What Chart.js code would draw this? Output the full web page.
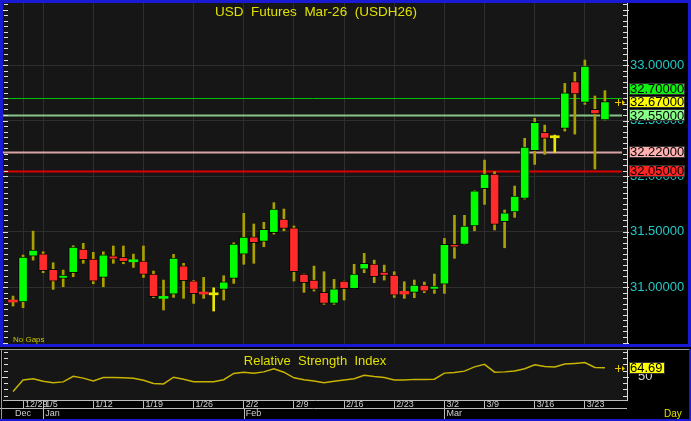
<!DOCTYPE html>
<html>
<head>
<meta charset="utf-8">
<script src="https://cdn.jsdelivr.net/npm/chart.js@4"></script>
<style>
  body { margin: 0; background: #000; }
  #wrap { position: relative; width: 691px; height: 421px; }
  #main { position: absolute; left: 0; top: 0; }
  #rsi { position: absolute; left: 0; top: 347px; }
</style>
</head>
<body>
<div id="wrap">
  <canvas id="main" width="691" height="347"></canvas>
  <canvas id="rsi" width="691" height="74"></canvas>
</div>
<script>
// daily OHLC, USDH26
const opens = [30.883, 30.865, 31.279, 31.300, 31.160, 31.078, 31.129, 31.342, 31.252, 31.087,
  31.282, 31.267, 31.228, 31.234, 31.117, 30.898, 30.937, 31.192, 31.057, 30.952,
  30.930, 30.979, 31.078, 31.297, 31.453, 31.412, 31.489, 31.612, 31.534, 31.117,
  31.063, 30.952, 30.853, 31.054, 30.985, 31.162, 31.207, 31.135, 31.108, 30.961,
  30.952, 31.018, 30.979, 31.027, 31.385, 31.385, 31.550, 31.886, 32.018, 31.588,
  31.678, 31.799, 32.228, 32.394, 32.345, 32.430, 32.850, 32.664, 32.601, 32.505];
const highs = [30.919, 31.288, 31.504, 31.318, 31.219, 31.153, 31.372, 31.394, 31.313, 31.318,
  31.370, 31.370, 31.297, 31.370, 31.144, 31.063, 31.295, 31.214, 31.060, 31.087,
  30.993, 31.102, 31.399, 31.664, 31.568, 31.583, 31.760, 31.703, 31.550, 31.117,
  31.189, 31.138, 31.069, 31.054, 31.205, 31.304, 31.243, 31.198, 31.138, 31.048,
  31.063, 31.045, 31.117, 31.438, 31.646, 31.646, 31.868, 32.144, 32.039, 31.694,
  31.910, 32.340, 32.520, 32.459, 32.369, 32.835, 32.934, 33.045, 32.721, 32.769];
const lows = [30.829, 30.814, 31.243, 31.129, 30.979, 31.003, 31.093, 31.214, 31.030, 31.003,
  31.214, 31.210, 31.177, 31.087, 30.904, 30.793, 30.907, 30.898, 30.853, 30.898,
  30.784, 30.883, 31.033, 31.205, 31.214, 31.363, 31.477, 31.507, 31.054, 30.952,
  30.964, 30.844, 30.844, 30.883, 30.985, 31.129, 31.039, 31.063, 30.907, 30.898,
  30.904, 30.949, 30.943, 30.943, 31.259, 31.385, 31.507, 31.745, 31.514, 31.354,
  31.628, 31.793, 32.105, 32.195, 32.214, 32.405, 32.378, 32.646, 32.063, 32.505];
const closes = [30.865, 31.270, 31.333, 31.147, 31.054, 31.108, 31.360, 31.246, 31.054, 31.291,
  31.252, 31.228, 31.243, 31.114, 30.913, 30.913, 31.261, 31.057, 30.940, 30.937,
  30.930, 31.048, 31.387, 31.450, 31.399, 31.520, 31.703, 31.529, 31.138, 31.039,
  30.979, 30.853, 30.985, 30.985, 31.117, 31.214, 31.093, 31.105, 30.928, 30.937,
  31.018, 30.964, 31.009, 31.385, 31.360, 31.550, 31.868, 32.018, 31.565, 31.669,
  31.820, 32.261, 32.484, 32.340, 32.345, 32.750, 32.739, 32.991, 32.559, 32.670];
const rsiValues = [26.5, 45, 47, 43, 40.5, 42, 51, 48, 43.5, 49,
  49, 48.5, 47.8, 44.5, 39.3, 38.8, 49.5, 46.2, 42.2, 42.2,
  42.2, 45.5, 55.5, 57.3, 55.7, 58, 63, 57.5, 48.5, 45.5,
  43.5, 40.5, 43, 45, 47, 52.5, 50.5, 49, 45, 45,
  46, 46, 46.2, 56, 57, 59.2, 66, 70, 57.5, 58,
  59.5, 63, 69.5, 66.5, 65.8, 70.5, 71.5, 72.8, 65, 64.69];

// week ticks (bar index) and month starts
const tickIdx = [1, 3, 8, 13, 18, 23, 28, 33, 38, 43, 47, 52, 57];
const tickLabels = ['12/29', '1/5', '1/12', '1/19', '1/26', '2/2', '2/9', '2/16', '2/23', '3/2', '3/9', '3/16', '3/23'];
const monthIdx = [0, 3, 23, 43];
const monthLabels = ['Dec', 'Jan', 'Feb', 'Mar'];
const priceTicks = [31.0, 31.5, 32.0, 32.5, 33.0];
const levels = [32.70, 32.67, 32.55, 32.22, 32.05];
const rsiTicks = [50];

const FONT = "'Liberation Sans', Arial, sans-serif";
Chart.defaults.font.family = FONT;

const levelLine = ['#00c000', null, '#88c488', '#d8a4a4', '#dd0000'];
const levelBox = ['#11ee11', '#ffff00', '#88ff88', '#ffb0b0', '#ff2424'];

function candleColor(i) {
  if (closes[i] > opens[i]) return '#00ff00';
  if (closes[i] < opens[i]) return '#ff2a2a';
  return '#e8e800';
}

function xScaleOpts() {
  return {
    type: 'linear', min: -1, max: 61.2, offset: false,
    afterBuildTicks: s => { s.ticks = tickIdx.map(v => ({ value: v })); },
  };
}

function ruler(ctx, scale, from, to, step, major, x0, x1) {
  ctx.strokeStyle = '#e0e0e0';
  ctx.lineWidth = 1;
  ctx.beginPath();
  for (let v = from; v <= to + 1e-9; v += step) {
    const py = Math.round(scale.getPixelForValue(v)) + 0.5;
    const big = Math.abs(v / major - Math.round(v / major)) < 1e-6;
    ctx.moveTo(x0, py);
    ctx.lineTo(x1 + (x1 > x0 ? (big ? 2 : 0) : (big ? -2 : 0)), py);
  }
  ctx.stroke();
}

function marker(ctx, x, y) {
  ctx.strokeStyle = '#e8c800';
  ctx.fillStyle = '#e8c800';
  ctx.lineWidth = 1;
  ctx.beginPath();
  ctx.moveTo(x - 3, y + 0.5); ctx.lineTo(x + 3, y + 0.5);
  ctx.moveTo(x + 0.5, y - 3); ctx.lineTo(x + 0.5, y + 4);
  ctx.stroke();
  ctx.beginPath();
  ctx.moveTo(x + 4, y - 2); ctx.lineTo(x + 7, y + 0.5); ctx.lineTo(x + 4, y + 3);
  ctx.fill();
}

function valueBox(ctx, x, cy, w, h, bg, text) {
  ctx.fillStyle = bg;
  ctx.fillRect(x, Math.round(cy - h / 2), w, h);
  ctx.strokeStyle = '#333';
  ctx.lineWidth = 1;
  ctx.strokeRect(x + 0.5, Math.round(cy - h / 2) + 0.5, w - 1, h - 1);
  ctx.fillStyle = '#000';
  ctx.font = '13px ' + FONT;
  ctx.textAlign = 'left';
  ctx.textBaseline = 'middle';
  ctx.fillText(text, x + 1, cy + 1);
}

const mainDecor = {
  id: 'mainDecor',
  beforeDraw(chart) {
    const { ctx, chartArea: a } = chart;
    ctx.save();
    ctx.fillStyle = '#000';
    ctx.fillRect(0, 0, chart.width, chart.height);
    ctx.fillStyle = '#161616';
    ctx.fillRect(a.left, a.top, a.right - a.left, a.bottom - a.top);
    ctx.restore();
  },
  beforeDatasetsDraw(chart) {
    const { ctx, chartArea: a, scales: { y } } = chart;
    ctx.save();
    levels.forEach((v, i) => {
      if (!levelLine[i]) return;
      const py = Math.round(y.getPixelForValue(v)) + 0.5;
      ctx.strokeStyle = levelLine[i];
      ctx.lineWidth = i === 0 ? 1 : 2;
      ctx.beginPath();
      ctx.moveTo(a.left, py);
      ctx.lineTo(a.right - 5, py);
      ctx.stroke();
    });
    ctx.restore();
  },
  afterDraw(chart) {
    const { ctx, chartArea: a, scales: { y } } = chart;
    ctx.save();
    ruler(ctx, y, 30.5, 33.55, 0.05, 0.5, a.right - 4, a.right);
    ruler(ctx, y, 30.5, 33.55, 0.05, 0.5, a.left + 5, a.left + 1);

    // price boxes, pushed up when they collide
    const items = levels.map((v, i) => ({ v, i, c: y.getPixelForValue(v) })).sort((p, q) => q.c - p.c);
    let limit = Infinity;
    items.forEach(it => {
      let c = it.c;
      if (c + 6 > limit - 1) c = limit - 1 - 6;
      it.cy = c;
      limit = c - 6;
    });
    items.forEach(it => valueBox(ctx, a.right + 2, it.cy, 56, 12, levelBox[it.i], it.v.toFixed(5)));

    marker(ctx, a.right - 9, Math.round(y.getPixelForValue(closes[closes.length - 1])));

    ctx.fillStyle = '#e0e000';
    ctx.font = '13.5px ' + FONT;
    ctx.textAlign = 'center';
    ctx.textBaseline = 'middle';
    ctx.fillText('USD  Futures  Mar-26  (USDH26)', 316, 12);

    ctx.font = '8px ' + FONT;
    ctx.textAlign = 'left';
    ctx.fillStyle = '#c8c800';
    ctx.fillText('No Gaps', 13, 340);

    ctx.strokeStyle = '#1a1ad2';
    ctx.lineWidth = 3;
    ctx.strokeRect(1.5, 1.5, chart.width - 3, chart.height - 3);
    ctx.restore();
  }
};

new Chart(document.getElementById('main'), {
  type: 'bar',
  data: {
    datasets: [
      {
        label: 'wick',
        order: 2,
        data: highs.map((h, i) => ({ x: i, y: [lows[i], h] })),
        backgroundColor: ctx => closes[ctx.dataIndex] === opens[ctx.dataIndex] ? '#e8e800' : '#aaa000',
        barThickness: 2,
        grouped: false,
      },
      {
        label: 'body',
        order: 1,
        data: opens.map((o, i) => ({ x: i, y: [o, closes[i]] })),
        backgroundColor: ctx => candleColor(ctx.dataIndex),
        borderColor: 'rgba(0,0,0,0.85)',
        borderWidth: ctx => Math.abs(closes[ctx.dataIndex] - opens[ctx.dataIndex]) < 0.025 ? 0 : 1,
        borderSkipped: false,
        minBarLength: 2,
        barThickness: 9,
        grouped: false,
      }
    ]
  },
  options: {
    responsive: false,
    animation: false,
    devicePixelRatio: 1,
    layout: { padding: { left: 3, top: 3, right: 0, bottom: 3 } },
    plugins: { legend: { display: false }, tooltip: { enabled: false } },
    scales: {
      x: Object.assign(xScaleOpts(), {
        afterFit: s => { s.height = 0; s.paddingLeft = 0; s.paddingRight = 0; },
        grid: { color: '#2e2e2e', drawTicks: false, offset: false },
        border: { display: false },
        ticks: { display: false, autoSkip: false },
      }),
      y: {
        type: 'linear', position: 'right', min: 30.487, max: 33.559,
        afterBuildTicks: s => { s.ticks = priceTicks.map(v => ({ value: v })); },
        afterFit: s => { s.width = 64; s.paddingTop = 0; s.paddingBottom = 0; },
        grid: { color: '#2e2e2e', drawTicks: false },
        border: { display: true, color: '#d8d8d8' },
        ticks: { color: '#22c8c8', font: { size: 13 }, padding: 3, callback: v => v.toFixed(5) },
      }
    }
  },
  plugins: [mainDecor]
});

const rsiDecor = {
  id: 'rsiDecor',
  beforeDraw(chart) {
    const { ctx, chartArea: a } = chart;
    ctx.save();
    ctx.fillStyle = '#000';
    ctx.fillRect(0, 0, chart.width, chart.height);
    ctx.fillStyle = '#161616';
    ctx.fillRect(a.left, a.top, a.right - a.left, a.bottom - a.top);
    ctx.restore();
  },
  afterDraw(chart) {
    const { ctx, chartArea: a, scales: { x, y } } = chart;
    ctx.save();
    ruler(ctx, y, 20, 90, 10, 50, a.right - 4, a.right);
    ruler(ctx, y, 20, 90, 10, 50, a.left + 5, a.left + 1);

    // month row
    const rowTop = a.bottom + 8;
    ctx.strokeStyle = '#bcbcbc';
    ctx.lineWidth = 1;
    ctx.beginPath();
    ctx.moveTo(0, rowTop + 0.5); ctx.lineTo(a.right, rowTop + 0.5);
    monthIdx.forEach((m, k) => {
      if (k === 0) return;
      const px = Math.round(x.getPixelForValue(m)) + 0.5;
      ctx.moveTo(px, rowTop); ctx.lineTo(px, chart.height);
    });
    ctx.stroke();
    ctx.fillStyle = '#d0d0d0';
    ctx.font = '9px ' + FONT;
    ctx.textAlign = 'left';
    ctx.textBaseline = 'middle';
    monthIdx.forEach((m, k) => ctx.fillText(monthLabels[k], x.getPixelForValue(m) + 2, rowTop + 6));

    ctx.fillStyle = '#e0e000';
    ctx.font = '10px ' + FONT;
    ctx.fillText('Day', 664, rowTop + 6);

    ctx.font = '13px ' + FONT;
    ctx.textAlign = 'center';
    ctx.fillText('Relative  Strength  Index', 315, 14);

    const last = rsiValues[rsiValues.length - 1];
    const ly = y.getPixelForValue(last);
    marker(ctx, a.right - 9, Math.round(ly));
    valueBox(ctx, a.right + 2, ly, 36, 12, '#ffff00', last.toFixed(2));

    // panel frame
    ctx.strokeStyle = '#9a9a9a';
    ctx.lineWidth = 1;
    ctx.beginPath();
    ctx.moveTo(0, 2.5); ctx.lineTo(chart.width, 2.5);
    ctx.moveTo(1.5, 2); ctx.lineTo(1.5, chart.height);
    ctx.stroke();
    ctx.strokeStyle = '#1a1ad2';
    ctx.lineWidth = 2;
    ctx.beginPath();
    ctx.moveTo(chart.width - 1, 2); ctx.lineTo(chart.width - 1, chart.height - 1);
    ctx.lineTo(0, chart.height - 1);
    ctx.stroke();
    ctx.restore();
  }
};

new Chart(document.getElementById('rsi'), {
  type: 'line',
  data: {
    datasets: [{
      label: 'RSI',
      data: rsiValues.map((v, i) => ({ x: i, y: v })),
      borderColor: '#c8b400',
      borderWidth: 1.5,
      pointRadius: 0,
      tension: 0,
    }]
  },
  options: {
    responsive: false,
    animation: false,
    devicePixelRatio: 1,
    layout: { padding: { left: 3, top: 3, right: 0, bottom: 0 } },
    plugins: { legend: { display: false }, tooltip: { enabled: false } },
    scales: {
      x: Object.assign(xScaleOpts(), {
        afterFit: s => { s.height = 21; s.paddingLeft = 0; s.paddingRight = 0; },
        grid: { drawOnChartArea: false, drawTicks: true, tickLength: 8, color: '#bcbcbc', tickColor: '#bcbcbc' },
        border: { display: true, color: '#bcbcbc' },
        ticks: {
          autoSkip: false, maxRotation: 0, align: 'start', labelOffset: 2, padding: -9,
          color: '#d0d0d0', font: { size: 9 },
          callback: (v, i) => tickLabels[i],
        },
      }),
      y: {
        type: 'linear', position: 'right', min: 13, max: 93,
        afterBuildTicks: s => { s.ticks = rsiTicks.map(v => ({ value: v })); },
        afterFit: s => { s.width = 64; s.paddingTop = 0; s.paddingBottom = 0; },
        grid: { display: false },
        border: { display: true, color: '#d8d8d8' },
        ticks: { color: '#d8d8d8', font: { size: 13 }, padding: 3 },
      }
    }
  },
  plugins: [rsiDecor]
});
</script>
</body>
</html>
